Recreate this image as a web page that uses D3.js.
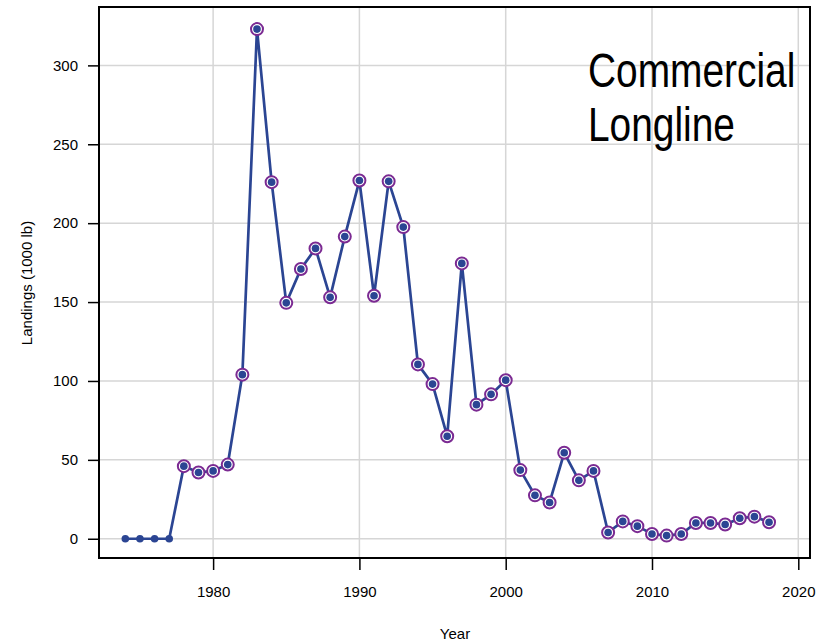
<!DOCTYPE html>
<html>
<head>
<meta charset="utf-8">
<script src="https://cdn.jsdelivr.net/npm/d3@7"></script>
<style>
  body { margin: 0; background: #fff; }
  text { font-family: "Liberation Sans", Arial, sans-serif; }
</style>
</head>
<body>
<div id="chart"></div>
<script>
// landings by year (1000 lb)
const years = [1974, 1975, 1976, 1977, 1978, 1979, 1980, 1981, 1982, 1983, 1984, 1985,
  1986, 1987, 1988, 1989, 1990, 1991, 1992, 1993, 1994, 1995, 1996, 1997, 1998, 1999,
  2000, 2001, 2002, 2003, 2004, 2005, 2006, 2007, 2008, 2009, 2010, 2011, 2012, 2013,
  2014, 2015, 2016, 2017, 2018];
const landings = [0, 0, 0, 0, 46, 42, 43, 47, 104, 323, 226, 149.5,
  171, 184, 153, 191.5, 227, 154, 226.5, 197.5, 110.5, 98, 65, 174.5, 85, 91.5,
  100.5, 43.5, 27.5, 23, 54.5, 37, 43, 4, 11, 8, 3, 2, 3, 10,
  10, 9, 13, 14, 10.5];
// years with zero landings are drawn without the ring
const ringed = years.map((y, i) => y >= 1978);
const xTicks = [1980, 1990, 2000, 2010, 2020];
const yTicks = [0, 50, 100, 150, 200, 250, 300];
const labelLines = ["Commercial", "Longline"];

const data = years.map((y, i) => ({ year: y, value: landings[i], ring: ringed[i] }));

const W = 832, H = 643;
const box = { left: 99, right: 810, top: 7, bottom: 558 };

const svg = d3.select("#chart").append("svg")
  .attr("width", W)
  .attr("height", H);

const x = d3.scaleLinear().domain([1972.2, 2020.8]).range([box.left, box.right]);
const y = d3.scaleLinear().domain([-12.2, 337]).range([box.bottom, box.top]);

// grid
svg.append("g").selectAll("line").data(xTicks).enter().append("line")
  .attr("x1", d => x(d)).attr("x2", d => x(d))
  .attr("y1", box.top).attr("y2", box.bottom)
  .attr("stroke", "#d6d6d6").attr("stroke-width", 1.5);
svg.append("g").selectAll("line").data(yTicks).enter().append("line")
  .attr("x1", box.left).attr("x2", box.right)
  .attr("y1", d => y(d)).attr("y2", d => y(d))
  .attr("stroke", "#d6d6d6").attr("stroke-width", 1.5);

// axes
const xAxis = svg.append("g")
  .attr("transform", "translate(0," + box.bottom + ")")
  .call(d3.axisBottom(x).tickValues(xTicks).tickFormat(d3.format("d")).tickSize(12).tickPadding(16));
const yAxis = svg.append("g")
  .attr("transform", "translate(" + box.left + ",0)")
  .call(d3.axisLeft(y).tickValues(yTicks).tickSize(11).tickPadding(10));
[xAxis, yAxis].forEach(a => {
  a.select(".domain").remove();
  a.selectAll("line").attr("stroke", "#000").attr("stroke-width", 1.5);
  a.selectAll("text").attr("font-size", 15).attr("fill", "#000")
    .attr("font-family", "Liberation Sans, Arial, sans-serif");
});

// box
svg.append("rect")
  .attr("x", box.left).attr("y", box.top)
  .attr("width", box.right - box.left).attr("height", box.bottom - box.top)
  .attr("fill", "none").attr("stroke", "#000").attr("stroke-width", 2);

// line
svg.append("path")
  .datum(data)
  .attr("fill", "none")
  .attr("stroke", "#2b4593")
  .attr("stroke-width", 2.7)
  .attr("d", d3.line().x(d => x(d.year)).y(d => y(d.value)));

// rings
svg.append("g").selectAll("circle")
  .data(data.filter(d => d.ring))
  .enter().append("circle")
  .attr("cx", d => x(d.year)).attr("cy", d => y(d.value))
  .attr("r", 6)
  .attr("fill", "#fff")
  .attr("stroke", "#7b2a92")
  .attr("stroke-width", 2);

// dots
svg.append("g").selectAll("circle")
  .data(data)
  .enter().append("circle")
  .attr("cx", d => x(d.year)).attr("cy", d => y(d.value))
  .attr("r", 3.8)
  .attr("fill", "#2b4593");

// axis titles
svg.append("text")
  .attr("x", 455).attr("y", 639)
  .attr("text-anchor", "middle")
  .attr("font-size", 15)
  .text("Year");
svg.append("text")
  .attr("transform", "translate(32,283) rotate(-90)")
  .attr("text-anchor", "middle")
  .attr("font-size", 15)
  .text("Landings (1000 lb)");

// panel label, squeezed horizontally to look like a condensed face
svg.append("g").selectAll("text")
  .data(labelLines)
  .enter().append("text")
  .attr("transform", (d, i) => "translate(588," + (87 + i * 54) + ") scale(0.81,1)")
  .attr("font-size", 48)
  .text(d => d);
</script>
</body>
</html>
